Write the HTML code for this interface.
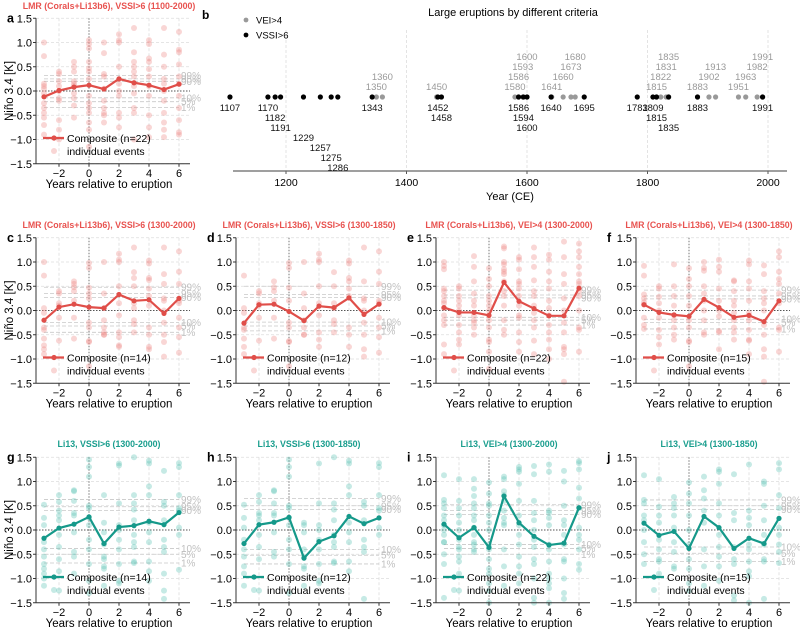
<!DOCTYPE html>
<html><head><meta charset="utf-8"><style>
html,body{margin:0;padding:0;background:#fff}
svg{display:block;font-family:"Liberation Sans",Arial,sans-serif}
</style></head><body>
<svg id="fig" width="800" height="629" viewBox="0 0 800 629" xmlns="http://www.w3.org/2000/svg"></svg>
<script>
// ---------- Panel b data ----------
const veiYears=[1350,1360,1450,1580,1586,1593,1600,1641,1660,1673,1680,1815,1822,1831,1835,1883,1902,1913,1951,1963,1982,1991];
const vssiYears=[1107,1170,1182,1191,1229,1257,1275,1286,1343,1452,1458,1586,1594,1600,1640,1695,1783,1809,1815,1835,1883,1991];
const veiGroups=[[1350,1360],[1450],[1580,1586,1593,1600],[1641,1660,1673,1680],[1815,1822,1831,1835],[1883,1902,1913],[1951,1963,1982,1991]];
const vssiGroups=[[1107],[1170,1182,1191,1229,1257,1275,1286],[1343],[1452,1458],[1586,1594,1600],[1640],[1695],[1783],[1809,1815,1835],[1883],[1991]];
const yearTicks=[1200,1400,1600,1800,2000];

// ---------- Composite panels data ----------
const yearsRel=[-3,-2,-1,0,1,2,3,4,5,6];
const yTicks=[1.5,1.0,0.5,0.0,-0.5,-1.0,-1.5];
const xTicks=[-2,0,2,4,6];
const pctLabels=["99%","95%","90%","10%","5%","1%"];

const compA=[-0.12,0.01,0.08,0.12,0.04,0.25,0.17,0.12,0.03,0.14];
const compC=[-0.2,0.07,0.13,0.07,0.05,0.33,0.2,0.22,-0.06,0.25];
const compD=[-0.26,0.12,0.13,-0.02,-0.21,0.09,0.06,0.26,-0.08,0.13];
const compE=[0.06,-0.04,-0.04,-0.1,0.58,0.19,0.04,-0.11,-0.11,0.46];
const compF=[0.12,-0.04,-0.09,-0.12,0.23,0.06,-0.14,-0.1,-0.23,0.2];
const compG=[-0.17,0.04,0.12,0.27,-0.28,0.06,0.09,0.18,0.11,0.36];
const compH=[-0.28,0.11,0.16,0.26,-0.58,-0.24,-0.12,0.28,0.13,0.25];
const compI=[0.12,-0.16,0.05,-0.36,0.7,0.15,-0.13,-0.31,-0.27,0.46];
const compJ=[0.14,-0.11,-0.03,-0.38,0.28,0.05,-0.38,-0.17,-0.28,0.24];

const pctA=[0.32,0.25,0.2,-0.14,-0.22,-0.34];
const pctC=[0.48,0.35,0.27,-0.25,-0.32,-0.45];
const pctD=[0.5,0.33,0.27,-0.24,-0.32,-0.42];
const pctE=[0.42,0.32,0.26,-0.14,-0.2,-0.3];
const pctF=[0.42,0.3,0.24,-0.18,-0.25,-0.38];
const pctG=[0.63,0.48,0.4,-0.38,-0.5,-0.68];
const pctH=[0.65,0.5,0.42,-0.4,-0.52,-0.7];
const pctI=[0.52,0.4,0.32,-0.3,-0.38,-0.5];
const pctJ=[0.62,0.5,0.42,-0.35,-0.48,-0.65];

const dotsA=[[1.0,0.72,0.15,0.05,-0.05,-0.25,-0.35,-0.55,-0.7,-0.9,0.1,-0.45],[0.4,0.35,0.2,0.1,-0.15,-0.2,-0.6,-0.8,-1.0,0.0],[0.6,0.5,0.4,0.2,0.1,-0.05,-0.15,-0.3,-0.55,0.15],[1.05,0.97,0.88,0.6,0.47,0.4,0.25,-0.1,-0.25,-0.35,-0.45,-0.65,-0.8,-1.15],[1.0,0.78,0.35,0.3,0.05,-0.2,-0.35,-0.45,-0.5,-0.65],[1.17,1.05,1.0,0.5,0.15,0.0,-0.1,-0.45,-0.55,-0.75],[1.3,0.8,0.6,0.5,0.4,0.3,0.1,-0.05,-0.35,-0.45,-1.0],[1.05,0.97,0.67,0.6,0.45,0.3,0.1,-0.1,-0.5,-0.75,-0.95],[1.3,0.75,0.5,0.25,0.15,0.0,-0.2,-0.45,-0.65,-0.8,-0.95],[1.22,0.85,0.8,0.55,0.3,0.15,-0.1,-0.35,-0.6,-0.85,-0.9]];
const dotsC=[[1.0,0.72,0.05,-0.05,-0.35,-0.4,-0.58,-0.72,-0.8,-0.9],[0.4,0.35,0.15,0.1,-0.15,-0.62],[0.6,0.55,0.48,0.4,0.2,-0.15,-0.58],[0.98,0.88,0.47,0.35,0.25,-0.25,-0.35,-0.63,-0.65,-1.15],[1.0,0.35,0.05,-0.2,-0.35,-0.5,-0.5,-0.45],[1.17,1.05,1.0,0.5,0.15,-0.1,-0.45,-0.55,-0.72,-0.75],[1.3,0.79,0.67,0.5,0.15,0.05,-0.2,-0.28,-0.45],[1.03,0.97,0.67,0.63,0.45,0.3,0.1,-0.35,-0.5,-0.75,-0.8],[1.3,0.75,0.55,0.25,0.2,0.0,-0.25,-0.5,-0.65,-0.95],[1.22,0.8,0.55,0.2,0.15,-0.15,-0.35,-0.55,-0.87]];
const dotsD=[[0.72,0.05,-0.05,-0.35,-0.4,-0.58,-0.75,-0.9],[0.4,0.35,0.15,0.1,-0.15,-0.62],[0.6,0.48,0.4,0.2,-0.15,-0.58],[0.98,0.88,0.47,0.2,-0.25,-0.35,-0.63,-0.65,-1.15],[1.0,0.35,0.05,-0.2,-0.35,-0.5,-0.5],[1.17,1.05,1.0,0.5,0.15,-0.1,-0.45,-0.6,-0.75],[0.79,0.5,0.15,0.05,-0.2,-0.28,-0.45],[1.03,0.97,0.67,0.6,0.45,0.3,-0.35,-0.5,-0.75],[1.3,0.6,0.25,0.2,0.0,-0.25,-0.5,-0.8,-0.95],[1.22,0.8,0.55,0.2,0.15,-0.15,-0.35,-0.55,-0.87]];
const dotsE=[[1.0,0.92,0.85,0.45,0.4,0.3,0.2,0.15,0.05,-0.1,-0.2,-0.3,-0.7,-0.9],[0.5,0.45,0.3,0.2,0.1,0.0,-0.1,-0.3,-0.45,-0.6,-0.7],[1.12,0.9,0.6,0.35,0.2,0.1,-0.1,-0.2,-0.25,-0.35,-0.5],[0.87,0.65,0.5,0.3,0.2,0.1,0.0,-0.2,-0.35,-0.6,-0.65,-0.85,-1.2],[1.32,1.28,1.0,0.95,0.85,0.8,0.75,0.6,0.4,0.3,0.1,-0.2,-0.4,-0.5],[1.1,1.05,0.85,0.6,0.55,0.45,0.3,0.1,-0.1,-0.15,-0.45,-0.65,-0.85],[1.3,1.1,0.9,0.62,0.4,0.3,0.1,-0.05,-0.2,-0.35,-0.62,-0.9],[1.15,1.05,0.8,0.6,0.45,0.2,0.05,-0.1,-0.3,-0.45,-0.6,-0.8,-1.0],[1.42,1.1,0.75,0.55,0.25,0.0,-0.25,-0.45,-0.75,-0.8,-0.9,-1.47],[1.38,1.22,1.1,0.9,0.75,0.6,0.55,0.4,0.3,0.0,-0.35,-0.4,-0.85]];
const dotsF=[[0.92,0.72,0.33,0.25,0.17,0.12,-0.15,-0.3,-0.38],[0.5,0.45,0.28,0.15,0.0,-0.15,-0.4,-0.55,-0.7],[0.95,0.5,0.3,0.1,-0.1,-0.2,-0.35,-0.5,-0.6],[0.87,0.65,0.5,0.3,0.1,-0.2,-0.35,-0.62,-0.65,-1.15],[1.0,0.88,0.82,0.5,0.35,0.2,0.0,-0.2,-0.45,-0.5],[1.05,0.9,0.8,0.45,0.2,0.0,-0.12,-0.42,-0.45,-0.8],[0.62,0.6,0.4,0.2,0.1,-0.05,-0.2,-0.35,-0.45,-0.6],[1.03,0.95,0.6,0.45,0.2,-0.05,-0.2,-0.4,-0.6,-0.62,-0.9],[0.93,0.75,0.4,0.25,0.15,0.0,-0.3,-0.5,-0.8,-0.95,-1.47],[1.22,1.1,0.8,0.65,0.55,0.35,0.15,-0.35,-0.4,-0.85]];
const dotsG=[[0.52,0.25,0.1,-0.25,-0.4,-0.55,-0.7,-0.8,-0.9,-1.0,-1.15],[0.72,0.58,0.4,0.3,0.2,-0.1,-0.35,-0.6,-0.85,-1.25],[0.82,0.8,0.6,0.35,0.3,-0.05,-0.45,-0.55,-0.9],[1.45,1.3,1.1,0.5,0.45,0.25,0.1,-0.2,-0.4,-0.7,-1.05,-1.3],[0.72,0.15,-0.05,-0.3,-0.55,-0.6,-0.75,-0.8,-1.15],[1.37,1.33,0.55,0.1,0.0,-0.2,-0.4,-0.7,-1.05,-1.1],[1.5,0.72,0.55,0.42,0.2,-0.1,-0.25,-0.35,-0.65,-0.68],[1.43,1.37,0.9,0.72,0.15,-0.05,-0.25,-0.65,-0.85,-1.05],[1.22,0.58,0.5,0.2,-0.2,-0.35,-0.45,-0.9,-1.25,-1.42],[1.38,1.3,0.72,0.45,0.4,0.05,-0.1,-0.82]];
const dotsH=[[0.52,0.25,0.05,-0.2,-0.4,-0.55,-0.75,-0.9,-1.15],[0.72,0.58,0.35,0.3,0.2,-0.1,-0.35,-0.6,-1.25],[0.82,0.8,0.55,0.35,0.3,-0.05,-0.45,-0.55],[1.45,1.3,1.1,0.5,0.45,0.25,0.1,-0.2,-0.4,-0.7,-1.3],[0.15,0.1,-0.05,-0.4,-0.55,-0.75,-0.8,-1.15],[1.37,0.55,0.1,0.0,-0.2,-0.4,-0.7,-1.05,-1.1],[1.5,0.55,0.42,0.2,-0.1,-0.25,-0.35,-0.65,-0.68],[1.43,1.37,0.9,0.72,0.15,-0.05,-0.25,-0.65,-0.85],[0.58,0.5,0.2,-0.2,-0.35,-0.45,-1.42],[1.38,1.3,0.72,0.45,0.4,0.05,-0.1]];
const dotsI=[[1.13,0.62,0.55,0.45,0.3,0.2,0.1,0.0,-0.1,-0.25,-0.25,-0.5,-0.7,-1.4],[1.05,0.6,0.45,0.3,0.15,0.0,-0.2,-0.35,-0.4,-0.55,-0.65,-0.9,-1.25],[1.05,0.85,0.7,0.55,0.45,0.3,0.2,0.05,-0.1,-0.25,-0.3,-0.4,-0.45],[0.98,0.75,0.55,0.5,0.3,0.15,0.0,-0.3,-0.4,-0.6,-0.8,-0.9,-1.1,-1.25,-1.5],[1.1,1.05,0.8,0.72,0.6,0.4,0.25,0.15,0.1,-0.4,-0.75,-1.15],[1.3,1.25,1.2,0.95,0.6,0.3,0.1,-0.1,-0.3,-0.55,-0.75,-0.9,-1.1],[1.32,1.15,0.6,0.35,0.2,0.0,-0.2,-0.35,-0.6,-0.7,-1.0,-1.4,-1.5],[1.35,1.2,0.4,0.35,0.25,0.1,-0.3,-0.4,-0.65,-0.9,-1.0,-1.1,-1.2,-1.5],[1.22,1.0,0.5,0.2,0.1,-0.1,-0.3,-0.6,-0.65,-1.0,-1.3,-1.42],[1.42,1.38,1.25,0.87,0.65,0.45,0.05,-0.1,-0.2,-0.4,-0.7,-0.82]];
const dotsJ=[[1.13,0.62,0.55,0.3,0.2,0.0,-0.25,-0.5,-0.7],[1.05,0.48,0.3,0.15,-0.2,-0.4,-0.6,-0.65,-0.9],[0.68,0.55,0.45,0.3,0.05,-0.25,-0.45,-0.75,-0.8],[0.98,0.75,0.55,0.3,0.0,-0.3,-0.6,-0.8,-1.1,-1.25],[1.1,0.82,0.65,0.4,0.15,-0.4,-0.75,-1.15],[1.25,1.2,0.95,0.55,0.3,-0.1,-0.35,-0.55,-0.75,-1.05],[1.15,0.35,0.2,-0.35,-0.6,-0.7,-1.35,-1.45],[1.35,0.4,0.25,0.1,-0.3,-0.4,-0.65,-0.85,-0.95,-1.5],[1.0,0.95,0.5,0.2,-0.1,-0.3,-0.6,-0.65,-1.42],[1.38,1.25,0.72,0.45,0.05,-0.1,-0.3,-0.45,-0.68]];

// ---------- drawing ----------
const NS="http://www.w3.org/2000/svg";
const svg=document.getElementById("fig");
function mk(tag,attrs,parent){const e=document.createElementNS(NS,tag);for(const k in attrs)e.setAttribute(k,attrs[k]);(parent||svg).appendChild(e);return e;}
function txt(s,attrs,parent){const e=mk("text",attrs,parent);e.textContent=s;return e;}

// Panel b
const gb=mk("g",{});


function bx(yr){return 286+(yr-1200)*0.6025;}
const dotY=97;
txt("b",{x:202,y:19,"font-size":12,"font-weight":"bold"},gb);
const bt=txt("Large eruptions by different criteria",{x:513,y:16,"font-size":11,"text-anchor":"middle"},gb);


yearTicks.forEach(t=>{
  mk("line",{x1:bx(t),x2:bx(t),y1:30,y2:171,stroke:"#ddd","stroke-width":0.8,"stroke-dasharray":"3,2"},gb);
  const tl=txt(t,{x:bx(t),y:186,"font-size":10.5,"text-anchor":"middle"},gb);
  
  
  mk("line",{x1:bx(t),x2:bx(t),y1:171,y2:174,stroke:"#555"},gb);
});
const bax=mk("line",{x1:233,x2:787,y1:171,y2:171,stroke:"#666","stroke-width":1.2},gb);


const bxl=txt("Year (CE)",{x:510,y:200,"font-size":11,"text-anchor":"middle"},gb);


veiYears.forEach(y=>{const c=mk("circle",{cx:bx(y),cy:dotY,r:2.6,fill:"#999"},gb);
  
  });
vssiYears.forEach(y=>{const c=mk("circle",{cx:bx(y),cy:dotY,r:2.6,fill:"#000"},gb);
  
  });
veiGroups.forEach(g=>g.forEach((y,i)=>{const t=txt(y,{x:bx(y),y:dotY-7-i*10,"font-size":9.5,fill:"#999","text-anchor":"middle"},gb);
  
  }));
vssiGroups.forEach(g=>g.forEach((y,i)=>{const t=txt(y,{x:bx(y),y:dotY+14+i*10,"font-size":9.5,fill:"#111","text-anchor":"middle"},gb);
  
  }));
const lg1=mk("circle",{cx:246,cy:20,r:2.4,fill:"#999"},gb);


txt("VEI>4",{x:256,y:23.5,"font-size":9.5},gb);
const lg2=mk("circle",{cx:246,cy:35,r:2.4,fill:"#000"},gb);


txt("VSSI>6",{x:256,y:38.5,"font-size":9.5},gb);

// Composite panels
const RED={line:"#e04e49",dot:"#ee8a86",title:"#e8524f"};
const TEAL={line:"#15998a",dot:"#5cc4b4",title:"#1a9e8e"};
function panel(o){
  const g=mk("g",{});
  
  
  const p0=o.x0, yz=o.y0, sy=48.5, sx=15;
  const X=v=>p0+v*sx, Y=v=>yz-v*sy;
  const left=p0-53,right=p0+101;
  yTicks.forEach(t=>{ if(t!==0) mk("line",{x1:left,x2:right,y1:Y(t),y2:Y(t),stroke:"#ddd","stroke-width":0.8,"stroke-dasharray":"3,2"},g);});
  xTicks.forEach(t=>{ if(t!==0) mk("line",{x1:X(t),x2:X(t),y1:Y(1.5),y2:Y(-1.5),stroke:"#ddd","stroke-width":0.8,"stroke-dasharray":"3,2"},g);});
  mk("line",{x1:X(0),x2:X(0),y1:Y(1.5),y2:Y(-1.5),stroke:"#777","stroke-width":1,"stroke-dasharray":"1.5,1.5"},g);
  mk("line",{x1:left,x2:right,y1:Y(0),y2:Y(0),stroke:"#555","stroke-width":1,"stroke-dasharray":"1.5,1.5"},g);
  o.pct.forEach((v,i)=>{
    const l=mk("line",{x1:X(-3),x2:X(6),y1:Y(v),y2:Y(v),stroke:"#c8c8c8","stroke-width":0.8,"stroke-dasharray":"4,2"},g);
    
    
    const t=txt(pctLabels[i],{x:X(6)+2,y:Y(v)+3.5,"font-size":10,fill:"#c0c0c0"},g);
    
    
  });
  o.dots.forEach((col,i)=>col.forEach(v=>{
    const c=mk("circle",{cx:X(yearsRel[i]),cy:Y(v),r:3,fill:o.c.dot,"fill-opacity":0.35},g);
    
    
  }));
  const pts=o.comp.map((v,i)=>X(yearsRel[i])+","+Y(v)).join(" ");
  const pl=mk("polyline",{points:pts,fill:"none",stroke:o.c.line,"stroke-width":2.2},g);
  
  
  o.comp.forEach((v,i)=>{const c=mk("circle",{cx:X(yearsRel[i]),cy:Y(v),r:2.6,fill:o.c.line},g);
    
    });
  mk("line",{x1:left,x2:left,y1:Y(1.5),y2:Y(-1.5),stroke:"#333","stroke-width":1},g);
  mk("line",{x1:left,x2:right,y1:Y(-1.5),y2:Y(-1.5),stroke:"#333","stroke-width":1},g);
  yTicks.forEach(t=>{
    mk("line",{x1:left-3,x2:left,y1:Y(t),y2:Y(t),stroke:"#333"},g);
    const tl=txt((t<0?"\u2212":"")+Math.abs(t).toFixed(1),{x:left-4,y:Y(t)+4,"font-size":11,"text-anchor":"end"},g);
    
    
  });
  xTicks.forEach(t=>{
    mk("line",{x1:X(t),x2:X(t),y1:Y(-1.5),y2:Y(-1.5)+3,stroke:"#333"},g);
    const tl=txt((t<0?"\u2212":"")+Math.abs(t),{x:X(t),y:Y(-1.5)+13,"font-size":11,"text-anchor":"middle"},g);
    
    
  });
  if(o.xlabel){const xl=txt("Years relative to eruption",{x:p0+20,y:Y(-1.5)+24,"font-size":11.5,"text-anchor":"middle"},g);
    
    }
  if(o.ylabel){const yl=txt("Niño 3.4 [K]",{x:0,y:0,"font-size":11.5,"text-anchor":"middle",transform:`translate(${p0-76},${yz}) rotate(-90)`},g);
    
    }
  const ti=txt(o.title,{x:p0+20,y:o.ty,"font-size":8.8,"font-weight":"bold",fill:o.c.title,"text-anchor":"middle"},g);
  
  
  txt(o.letter,{x:p0-82,y:Y(1.5)+4,"font-size":12.5,"font-weight":"bold"},g);
  const ly=yz+47;
  const ll=mk("line",{x1:p0-46,x2:p0-25,y1:ly,y2:ly,stroke:o.c.line,"stroke-width":2.2},g);
  
  
  mk("circle",{cx:p0-35,cy:ly,r:2.6,fill:o.c.line},g);
  txt("Composite (n="+o.n+")",{x:p0-22,y:ly+4,"font-size":10.5},g);
  const ld=mk("circle",{cx:p0-35,cy:ly+13,r:3,fill:o.c.dot,"fill-opacity":0.35},g);
  
  
  txt("individual events",{x:p0-22,y:ly+17,"font-size":10.5},g);
}
panel({letter:"a",x0:89,y0:91,ty:9,title:"LMR (Corals+Li13b6), VSSI>6 (1100-2000)",c:RED,comp:compA,pct:pctA,dots:dotsA,n:22,ylabel:true,xlabel:true});
panel({letter:"c",x0:89,y0:310.5,ty:228,title:"LMR (Corals+Li13b6), VSSI>6 (1300-2000)",c:RED,comp:compC,pct:pctC,dots:dotsC,n:14,ylabel:true,xlabel:true});
panel({letter:"d",x0:289,y0:310.5,ty:228,title:"LMR (Corals+Li13b6), VSSI>6 (1300-1850)",c:RED,comp:compD,pct:pctD,dots:dotsD,n:12,xlabel:true});
panel({letter:"e",x0:489,y0:310.5,ty:228,title:"LMR (Corals+Li13b6), VEI>4 (1300-2000)",c:RED,comp:compE,pct:pctE,dots:dotsE,n:22,xlabel:true});
panel({letter:"f",x0:689,y0:310.5,ty:228,title:"LMR (Corals+Li13b6), VEI>4 (1300-1850)",c:RED,comp:compF,pct:pctF,dots:dotsF,n:15,xlabel:true});
panel({letter:"g",x0:89,y0:530,ty:447,title:"Li13, VSSI>6 (1300-2000)",c:TEAL,comp:compG,pct:pctG,dots:dotsG,n:14,ylabel:true,xlabel:true});
panel({letter:"h",x0:289,y0:530,ty:447,title:"Li13, VSSI>6 (1300-1850)",c:TEAL,comp:compH,pct:pctH,dots:dotsH,n:12,xlabel:true});
panel({letter:"i",x0:489,y0:530,ty:447,title:"Li13, VEI>4 (1300-2000)",c:TEAL,comp:compI,pct:pctI,dots:dotsI,n:22,xlabel:true});
panel({letter:"j",x0:689,y0:530,ty:447,title:"Li13, VEI>4 (1300-1850)",c:TEAL,comp:compJ,pct:pctJ,dots:dotsJ,n:15,xlabel:true});
</script>
</body></html>
